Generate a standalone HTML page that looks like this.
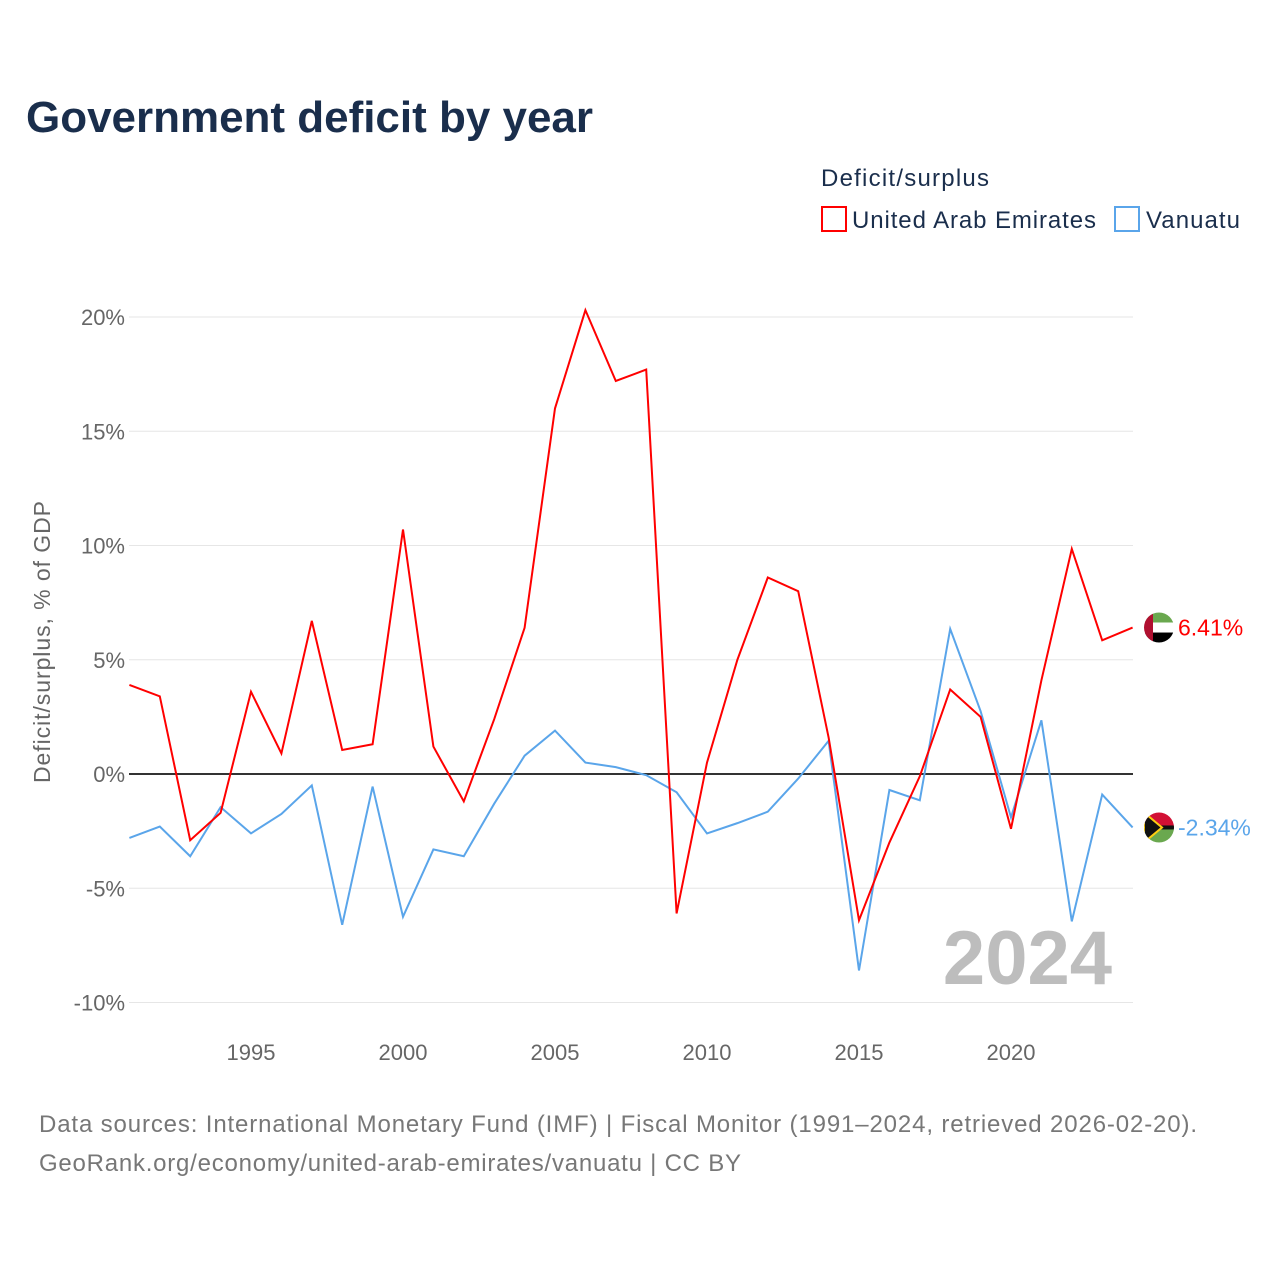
<!DOCTYPE html>
<html><head><meta charset="utf-8"><style>
body{margin:0;background:#fff;font-family:"Liberation Sans",sans-serif}
svg{display:block}
</style></head><body>
<svg width="1280" height="1280" viewBox="0 0 1280 1280">
<text x="26" y="132" font-size="44" font-weight="bold" fill="#1a2e4c" textLength="567">Government deficit by year</text>
<text x="821" y="186" font-size="24" fill="#1a2e4c" textLength="168">Deficit/surplus</text>
<g><rect x="822" y="207" width="24" height="24" fill="#fff" stroke="#f00" stroke-width="2"/><text x="852" y="228" font-size="24" fill="#1a2e4c" textLength="244">United Arab Emirates</text></g>
<g><rect x="1115" y="207" width="24" height="24" fill="#fff" stroke="#5aa5ea" stroke-width="2"/><text x="1146" y="228" font-size="24" fill="#1a2e4c" textLength="94">Vanuatu</text></g>
<g id="grid"></g>
<text transform="translate(50,642) rotate(-90)" text-anchor="middle" font-size="23" fill="#666" textLength="282">Deficit/surplus, % of GDP</text>
<text x="1112" y="984" text-anchor="end" font-size="76" font-weight="bold" fill="#bdbdbd">2024</text>
<g id="series"></g>
<text x="39" y="1132" font-size="24" fill="#777" textLength="1158">Data sources: International Monetary Fund (IMF) | Fiscal Monitor (1991–2024, retrieved 2026-02-20).</text>
<text x="39" y="1171" font-size="24" fill="#777" textLength="702">GeoRank.org/economy/united-arab-emirates/vanuatu | CC BY</text>
</svg>
<script>
const years=[1991,1992,1993,1994,1995,1996,1997,1998,1999,2000,2001,2002,2003,2004,2005,2006,2007,2008,2009,2010,2011,2012,2013,2014,2015,2016,2017,2018,2019,2020,2021,2022,2023,2024];
const uae=[3.9,3.4,-2.9,-1.7,3.6,0.9,6.7,1.05,1.3,10.7,1.2,-1.2,2.4,6.4,16.0,20.3,17.2,17.7,-6.1,0.5,5.0,8.6,8.0,1.6,-6.4,-3.0,-0.1,3.7,2.5,-2.4,4.1,9.85,5.85,6.41];
const vanuatu=[-2.8,-2.3,-3.6,-1.45,-2.6,-1.75,-0.5,-6.6,-0.55,-6.25,-3.3,-3.6,-1.3,0.8,1.9,0.5,0.3,-0.05,-0.8,-2.6,-2.15,-1.65,-0.2,1.45,-8.6,-0.7,-1.15,6.35,2.75,-1.9,2.35,-6.45,-0.9,-2.34];
const yTicks=[-10,-5,0,5,10,15,20];
const xTicks=[1995,2000,2005,2010,2015,2020];
const NS="http://www.w3.org/2000/svg";
const X=y=>129.4+(y-1991)*30.4;
const Y=v=>774-v*22.85;
const grid=document.getElementById('grid'),ser=document.getElementById('series');
function mk(tag,at,parent){const e=document.createElementNS(NS,tag);for(const k in at)e.setAttribute(k,at[k]);parent.appendChild(e);return e;}
yTicks.forEach(t=>{
  const l=mk('line',{x1:129,x2:1133,y1:Y(t),y2:Y(t),stroke:t===0?'#333':'#e6e6e6','stroke-width':t===0?2:1},grid);
  
  
  const tx=mk('text',{x:125,y:Y(t)+8,'text-anchor':'end','font-size':22,fill:'#666'},grid);
  tx.textContent=t+'%';
  
  
});
xTicks.forEach(t=>{
  const tx=mk('text',{x:X(t),y:1060,'text-anchor':'middle','font-size':22,fill:'#666'},grid);
  tx.textContent=t;
  
  
});
function line(vals,color,name){
  const p=mk('polyline',{points:vals.map((v,i)=>X(years[i])+','+Y(v)).join(' '),fill:'none',stroke:color,'stroke-width':2},ser);
  
  
}
line(vanuatu,'#5aa5ea','vanuatu-line');
line(uae,'#f00','uae-line');
function endLabel(vals,color,name,flag){
  const v=vals[vals.length-1],y=Y(v);
  const g=mk('g',{},ser);
  
  
  if(flag==='uae'){
    mk('rect',{x:1144,y:y-15,width:30,height:10,fill:'#6aa84f'},g);
    mk('rect',{x:1144,y:y-5,width:30,height:10,fill:'#fff'},g);
    mk('rect',{x:1144,y:y+5,width:30,height:10,fill:'#000'},g);
    mk('rect',{x:1144,y:y-15,width:9,height:30,fill:'#b01030'},g);
  }else{
    mk('rect',{x:1144,y:y-15,width:30,height:15,fill:'#d21034'},g);
    mk('rect',{x:1144,y:y,width:30,height:15,fill:'#6aa84f'},g);
    mk('rect',{x:1144,y:y-2,width:30,height:4,fill:'#111'},g);
    mk('polygon',{points:`1144,${y-15} 1162,${y} 1144,${y+15}`,fill:'#111',stroke:'#fdce12','stroke-width':2},g);
  }
  const cp=mk('clipPath',{id:'cp'+flag},ser);mk('circle',{cx:1159,cy:y,r:15},cp);
  g.setAttribute('clip-path','url(#cp'+flag+')');
  const t=mk('text',{x:1178,y:y+8,'font-size':23,fill:color},ser);
  t.textContent=v.toFixed(2)+'%';
  
  
}
endLabel(uae,'#f00','uae','uae');
endLabel(vanuatu,'#5aa5ea','vanuatu','vu');
</script>
</body></html>
